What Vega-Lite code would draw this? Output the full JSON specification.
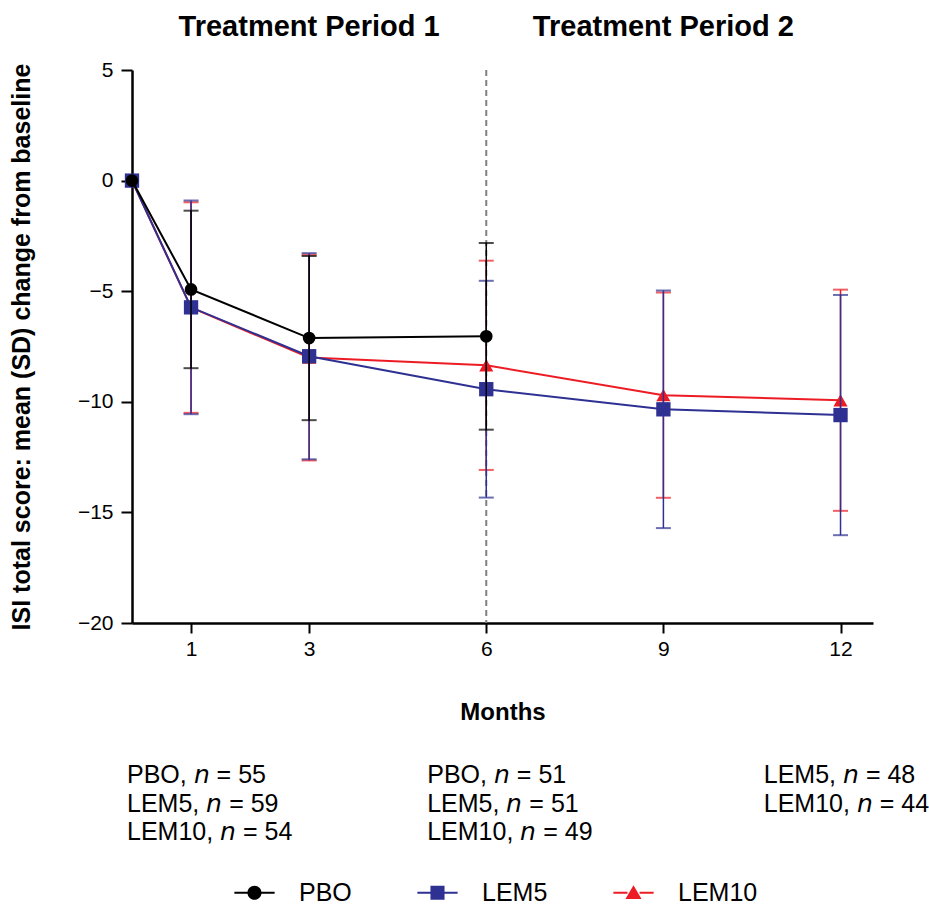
{
  "$schema": "https://vega.github.io/schema/vega-lite/v6.json",
  "width": 741,
  "height": 553,
  "autosize": "none",
  "padding": {"left": 132, "top": 70, "right": 56, "bottom": 282},
  "background": "white",
  "config": {"view": {"stroke": null}, "font": "Liberation Sans"},
  "layer": [
    {
      "data": {"values": [{}]},
      "mark": {"type": "rule", "color": "#808080", "strokeWidth": 2, "strokeDash": [6, 4]},
      "encoding": {"x": {"datum": 6, "type": "quantitative"}}
    },
    {
      "data": {
        "values": [
          {"series": "LEM10", "month": 0, "mean": 0, "sd": 0},
          {"series": "LEM10", "month": 1, "mean": -5.74, "sd": 4.76},
          {"series": "LEM10", "month": 3, "mean": -8.0, "sd": 4.65},
          {"series": "LEM10", "month": 6, "mean": -8.35, "sd": 4.73},
          {"series": "LEM10", "month": 9, "mean": -9.7, "sd": 4.64},
          {"series": "LEM10", "month": 12, "mean": -9.93, "sd": 5.0},
          {"series": "LEM5", "month": 0, "mean": 0, "sd": 0},
          {"series": "LEM5", "month": 1, "mean": -5.73, "sd": 4.83},
          {"series": "LEM5", "month": 3, "mean": -7.94, "sd": 4.66},
          {"series": "LEM5", "month": 6, "mean": -9.43, "sd": 4.9},
          {"series": "LEM5", "month": 9, "mean": -10.34, "sd": 5.37},
          {"series": "LEM5", "month": 12, "mean": -10.6, "sd": 5.43},
          {"series": "PBO", "month": 0, "mean": 0, "sd": 0},
          {"series": "PBO", "month": 1, "mean": -4.92, "sd": 3.56},
          {"series": "PBO", "month": 3, "mean": -7.12, "sd": 3.71},
          {"series": "PBO", "month": 6, "mean": -7.04, "sd": 4.22}
        ]
      },
      "encoding": {
        "x": {
          "field": "month", "type": "quantitative", "title": "Months",
          "scale": {"domain": [0, 12.55], "nice": false, "zero": false},
          "axis": {"values": [1, 3, 6, 9, 12], "format": "d", "grid": false, "domainColor": "black", "domainWidth": 2.5, "tickColor": "black", "tickWidth": 2, "tickSize": 10, "labelFontSize": 21, "labelColor": "black", "labelPadding": 5, "titleFontSize": 24, "titleFontWeight": "bold", "titleColor": "black", "titlePadding": 41}
        },
        "y": {
          "field": "mean", "type": "quantitative", "title": "ISI total score: mean (SD) change from baseline",
          "scale": {"domain": [-20, 5], "nice": false, "zero": false},
          "axis": {"values": [5, 0, -5, -10, -15, -20], "grid": false, "domainColor": "black", "domainWidth": 2.5, "tickColor": "black", "tickWidth": 2, "tickSize": 11, "labelFontSize": 21, "labelColor": "black", "labelPadding": 8, "titleFontSize": 25, "titleFontWeight": "bold", "titleColor": "black", "titlePadding": 43}
        },
        "color": {
          "field": "series", "type": "nominal",
          "scale": {"domain": ["PBO", "LEM5", "LEM10"], "range": ["#000000", "#2E3192", "#ED1C24"]},
          "legend": {
            "title": null, "orient": "none", "legendX": 110, "legendY": 810, "direction": "horizontal",
            "padding": 0, "labelFontSize": 25, "labelColor": "black", "labelOffset": 32, "columnPadding": 65,
            "symbolSize": 180, "symbolStrokeWidth": 0, "symbolOpacity": 1
          }
        }
      },
      "layer": [
        {
          "transform": [{"filter": "datum.month < -1"}],
          "mark": {"type": "point", "filled": true, "opacity": 1},
          "encoding": {
            "shape": {
              "field": "series", "type": "nominal",
              "scale": {"domain": ["PBO", "LEM5", "LEM10"], "range": [
                "M-3,-0.16H-0.9V0.16H-3Z M0.9,-0.16H3V0.16H0.9Z M1.05,0A1.05,1.05,0,1,1,-1.05,0A1.05,1.05,0,1,1,1.05,0Z",
                "M-3,-0.16H-1V0.16H-3Z M1,-0.16H3V0.16H1Z M-1.05,-1.05H1.05V1.05H-1.05Z",
                "M-3,-0.16H-0.9V0.16H-3Z M0.9,-0.16H3V0.16H0.9Z M0,-1.1L1.2,0.95H-1.2Z"
              ]},
              "legend": {
                "title": null, "orient": "none", "legendX": 110, "legendY": 810, "direction": "horizontal",
                "padding": 0, "labelFontSize": 25, "labelColor": "black", "labelOffset": 32, "columnPadding": 65,
                "symbolSize": 180, "symbolStrokeWidth": 0, "symbolOpacity": 1
              }
            }
          }
        },
        {
          "transform": [{"filter": "datum.series === 'LEM10'"}],
          "layer": [
            {
              "transform": [{"filter": "datum.month > 0"}],
              "mark": {"type": "errorbar", "thickness": 1.5, "ticks": {"size": 15, "thickness": 2}},
              "encoding": {"yError": {"field": "sd"}}
            },
            {"mark": {"type": "line", "strokeWidth": 2}},
            {"mark": {"type": "point", "shape": "triangle-up", "filled": true, "opacity": 1, "size": 200}}
          ]
        },
        {
          "transform": [{"filter": "datum.series === 'LEM5'"}],
          "layer": [
            {
              "transform": [{"filter": "datum.month > 0"}],
              "mark": {"type": "errorbar", "thickness": 1.5, "ticks": {"size": 15, "thickness": 2}},
              "encoding": {"yError": {"field": "sd"}}
            },
            {"mark": {"type": "line", "strokeWidth": 2}},
            {"mark": {"type": "point", "shape": "square", "filled": true, "opacity": 1, "size": 205}}
          ]
        },
        {
          "transform": [{"filter": "datum.series === 'PBO'"}],
          "layer": [
            {
              "transform": [{"filter": "datum.month > 0"}],
              "mark": {"type": "errorbar", "thickness": 1.5, "ticks": {"size": 15, "thickness": 2}},
              "encoding": {"yError": {"field": "sd"}}
            },
            {"mark": {"type": "line", "strokeWidth": 2}},
            {"mark": {"type": "point", "shape": "circle", "filled": true, "opacity": 1, "size": 160}}
          ]
        }
      ]
    },
    {
      "data": {"values": [{}]},
      "mark": {"type": "text", "fontSize": 29, "fontWeight": "bold", "color": "black", "align": "center", "baseline": "middle"},
      "encoding": {"x": {"datum": 3, "type": "quantitative"}, "y": {"datum": 6.94, "type": "quantitative"}, "text": {"value": "Treatment Period 1"}}
    },
    {
      "data": {"values": [{}]},
      "mark": {"type": "text", "fontSize": 29, "fontWeight": "bold", "color": "black", "align": "center", "baseline": "middle"},
      "encoding": {"x": {"datum": 9, "type": "quantitative"}, "y": {"datum": 6.94, "type": "quantitative"}, "text": {"value": "Treatment Period 2"}}
    },
    {
      "data": {"values": [{}]},
      "mark": {"type": "text", "fontSize": 25, "color": "black", "align": "left", "baseline": "top", "lineHeight": 28.5},
      "encoding": {"x": {"datum": -0.085, "type": "quantitative"}, "y": {"datum": -26.33, "type": "quantitative"}, "text": {"value": ["PBO, 𝘯 = 55", "LEM5, 𝘯 = 59", "LEM10, 𝘯 = 54"]}}
    },
    {
      "data": {"values": [{}]},
      "mark": {"type": "text", "fontSize": 25, "color": "black", "align": "left", "baseline": "top", "lineHeight": 28.5},
      "encoding": {"x": {"datum": 5.0, "type": "quantitative"}, "y": {"datum": -26.33, "type": "quantitative"}, "text": {"value": ["PBO, 𝘯 = 51", "LEM5, 𝘯 = 51", "LEM10, 𝘯 = 49"]}}
    },
    {
      "data": {"values": [{}]},
      "mark": {"type": "text", "fontSize": 25, "color": "black", "align": "left", "baseline": "top", "lineHeight": 28.5},
      "encoding": {"x": {"datum": 10.7, "type": "quantitative"}, "y": {"datum": -26.33, "type": "quantitative"}, "text": {"value": ["LEM5, 𝘯 = 48", "LEM10, 𝘯 = 44"]}}
    }
  ]
}
